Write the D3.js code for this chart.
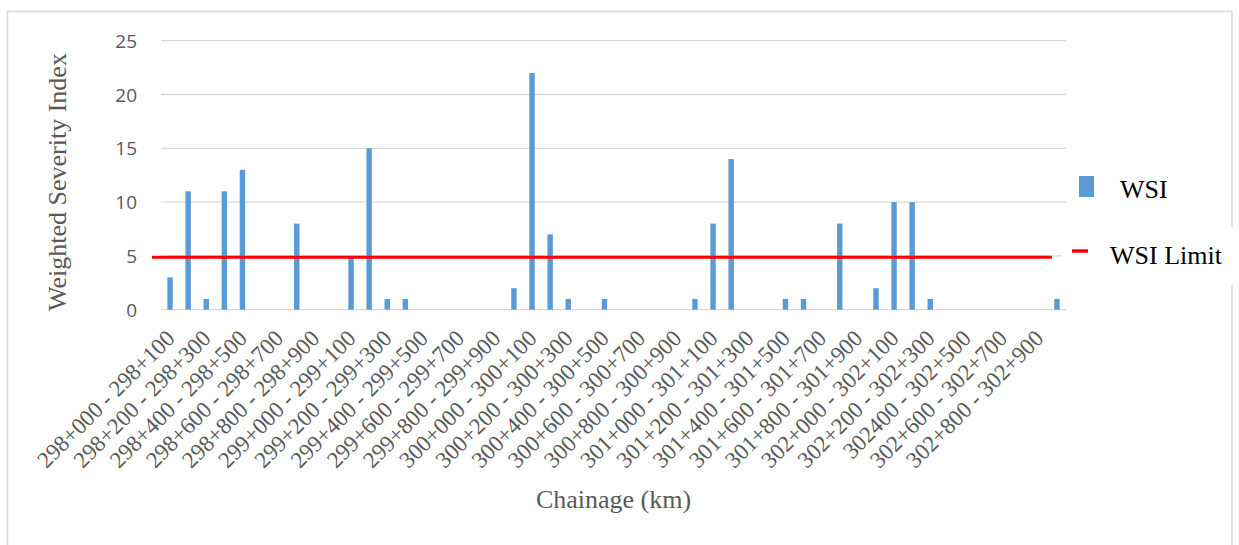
<!DOCTYPE html>
<html>
<head>
<meta charset="utf-8">
<script src="https://cdn.jsdelivr.net/npm/d3@7"></script>
<style>
  html, body { margin: 0; padding: 0; background: #ffffff; }
  svg { display: block; }
</style>
</head>
<body>
<svg id="chart" width="1239" height="545"></svg>
<script>
// Chainage segments (100 m each)
const chainages = [
  "298+000 - 298+100", "298+100 - 298+200", "298+200 - 298+300", "298+300 - 298+400",
  "298+400 - 298+500", "298+500 - 298+600", "298+600 - 298+700", "298+700 - 298+800",
  "298+800 - 298+900", "298+900 - 299+000", "299+000 - 299+100", "299+100 - 299+200",
  "299+200 - 299+300", "299+300 - 299+400", "299+400 - 299+500", "299+500 - 299+600",
  "299+600 - 299+700", "299+700 - 299+800", "299+800 - 299+900", "299+900 - 300+000",
  "300+000 - 300+100", "300+100 - 300+200", "300+200 - 300+300", "300+300 - 300+400",
  "300+400 - 300+500", "300+500 - 300+600", "300+600 - 300+700", "300+700 - 300+800",
  "300+800 - 300+900", "300+900 - 301+000", "301+000 - 301+100", "301+100 - 301+200",
  "301+200 - 301+300", "301+300 - 301+400", "301+400 - 301+500", "301+500 - 301+600",
  "301+600 - 301+700", "301+700 - 301+800", "301+800 - 301+900", "301+900 - 302+000",
  "302+000 - 302+100", "302+100 - 302+200", "302+200 - 302+300", "302+300 - 302+400",
  "302400 - 302+500", "302+500 - 302+600", "302+600 - 302+700", "302+700 - 302+800",
  "302+800 - 302+900", "302+900 - 303+000"
];

// Weighted Severity Index per segment
const wsiValues = [
  3, 11, 1, 11, 13, 0, 0, 8, 0, 0,
  5, 15, 1, 1, 0, 0, 0, 0, 0, 2,
  22, 7, 1, 0, 1, 0, 0, 0, 0, 1,
  8, 14, 0, 0, 1, 1, 0, 8, 0, 2,
  10, 10, 1, 0, 0, 0, 0, 0, 0, 1
];

const wsiLimit = 5;
const yTicks = [0, 5, 10, 15, 20, 25];
const seriesNames = ["WSI", "WSI Limit"];
const axisTitles = { x: "Chainage (km)", y: "Weighted Severity Index" };

const svg = d3.select("#chart");
const W = 1239, H = 545;
const plot = { left: 161, right: 1066, top: 40.7, bottom: 309.7 };

const serif = "'Liberation Serif', 'Times New Roman', serif";
const sans = "'Open Sans', 'Liberation Sans', sans-serif";
const textGrey = "#595959";
const gridGrey = "#D9D9D9";
const barBlue = "#5B9BD5";
const limitRed = "#FF0000";

// chart frame
svg.append("rect")
  .attr("x", 7.5).attr("y", 11.5)
  .attr("width", 1224.5).attr("height", 560)
  .attr("fill", "#ffffff")
  .attr("stroke", gridGrey).attr("stroke-width", 1.5);

const x = d3.scaleBand()
  .domain(chainages)
  .range([plot.left, plot.right])
  .paddingInner(0.7)
  .paddingOuter(0.35);

const y = d3.scaleLinear()
  .domain([0, 25])
  .range([plot.bottom, plot.top]);

// horizontal gridlines
svg.append("g")
  .selectAll("line")
  .data(yTicks)
  .join("line")
  .attr("x1", plot.left).attr("x2", plot.right)
  .attr("y1", d => y(d)).attr("y2", d => y(d))
  .attr("stroke", gridGrey).attr("stroke-width", 1.3);

// y axis labels
const yAxis = svg.append("g")
  .attr("transform", `translate(${plot.left - 24},0)`)
  .call(d3.axisLeft(y).tickValues(yTicks).tickSize(0).tickPadding(0));
yAxis.select(".domain").remove();
yAxis.selectAll("text")
  .attr("font-family", sans)
  .attr("font-size", 19)
  .attr("fill", textGrey)
  .attr("dy", "0.35em");

// bars
svg.append("g")
  .selectAll("rect")
  .data(wsiValues.map((v, i) => ({ c: chainages[i], v })))
  .join("rect")
  .attr("x", d => x(d.c))
  .attr("width", x.bandwidth())
  .attr("y", d => y(d.v))
  .attr("height", d => y(0) - y(d.v))
  .attr("fill", barBlue);

// WSI limit line
const firstC = x(chainages[0]) + x.bandwidth() / 2;
const lastC = x(chainages[chainages.length - 1]) + x.bandwidth() / 2;
svg.append("line")
  .attr("x1", firstC - x.step())
  .attr("x2", lastC - x.step() * 0.28)
  .attr("y1", y(wsiLimit) + 1.3)
  .attr("y2", y(wsiLimit) + 1.3)
  .attr("stroke", limitRed)
  .attr("stroke-width", 3);

// x axis labels (every other segment)
const xAxis = svg.append("g")
  .attr("transform", `translate(0,${plot.bottom})`)
  .call(d3.axisBottom(x)
    .tickValues(chainages.filter((d, i) => i % 2 === 0))
    .tickSize(0).tickPadding(0));
xAxis.select(".domain").remove();
xAxis.selectAll("text")
  .attr("font-family", serif)
  .attr("font-size", 23)
  .attr("fill", textGrey)
  .attr("text-anchor", "end")
  .attr("dy", 0)
  .attr("transform", "translate(6,30) rotate(-45)");

// axis titles
svg.append("text")
  .attr("transform", "translate(66,182) rotate(-90)")
  .attr("text-anchor", "middle")
  .attr("font-family", serif)
  .attr("font-size", 26)
  .attr("fill", textGrey)
  .text(axisTitles.y);

svg.append("text")
  .attr("x", (plot.left + plot.right) / 2)
  .attr("y", 508)
  .attr("text-anchor", "middle")
  .attr("font-family", serif)
  .attr("font-size", 26)
  .attr("fill", textGrey)
  .text(axisTitles.x);

// legend: WSI
const legend = svg.append("g");
legend.append("rect")
  .attr("x", 1079).attr("y", 176)
  .attr("width", 15).attr("height", 21)
  .attr("fill", barBlue);
legend.append("text")
  .attr("x", 1120).attr("y", 198)
  .attr("font-family", serif)
  .attr("font-size", 26)
  .attr("fill", "#000000")
  .text(seriesNames[0]);

// legend: WSI Limit (own white box over the frame)
legend.append("rect")
  .attr("x", 1062).attr("y", 227)
  .attr("width", 177).attr("height", 58)
  .attr("fill", "#ffffff");
legend.append("line")
  .attr("x1", 1072).attr("x2", 1088)
  .attr("y1", 251).attr("y2", 251)
  .attr("stroke", limitRed).attr("stroke-width", 3.5);
legend.append("text")
  .attr("x", 1110).attr("y", 264)
  .attr("font-family", serif)
  .attr("font-size", 26)
  .attr("fill", "#000000")
  .text(seriesNames[1]);
</script>
</body>
</html>
